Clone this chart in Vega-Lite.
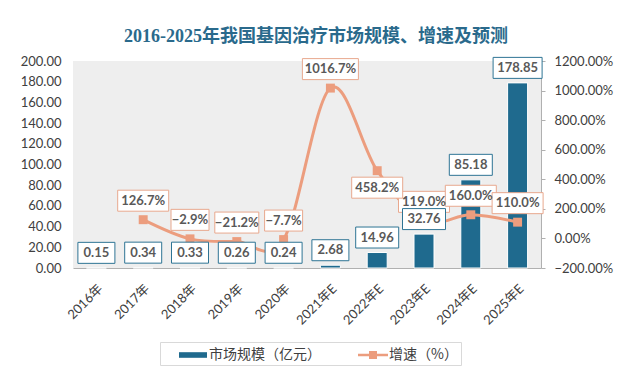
{
  "$schema": "https://vega.github.io/schema/vega-lite/v6.json",
  "autosize": {"type": "none"},
  "width": 468,
  "height": 207,
  "padding": {"left": 73, "top": 61, "right": 91, "bottom": 120},
  "background": "#ffffff",
  "config": {
    "view": {"fill": "#eeeeee", "stroke": null},
    "font": "Lato, Noto Sans CJK SC"
  },
  "title": {
    "text": "2016-2025年我国基因治疗市场规模、增速及预测",
    "font": "Liberation Serif, Noto Sans CJK SC",
    "fontSize": 18,
    "fontWeight": "bold",
    "color": "#2a6a8c",
    "anchor": "middle",
    "dx": 9,
    "offset": 9
  },
  "data": {
    "values": [
      {"year": "2016年", "scale": 0.15, "growth": null},
      {"year": "2017年", "scale": 0.34, "growth": 1.267},
      {"year": "2018年", "scale": 0.33, "growth": -0.029},
      {"year": "2019年", "scale": 0.26, "growth": -0.212},
      {"year": "2020年", "scale": 0.24, "growth": -0.077},
      {"year": "2021年E", "scale": 2.68, "growth": 10.167},
      {"year": "2022年E", "scale": 14.96, "growth": 4.582},
      {"year": "2023年E", "scale": 32.76, "growth": 1.19},
      {"year": "2024年E", "scale": 85.18, "growth": 1.6},
      {"year": "2025年E", "scale": 178.85, "growth": 1.1}
    ]
  },
  "encoding": {
    "x": {
      "field": "year",
      "type": "nominal",
      "sort": null,
      "scale": {"paddingInner": 0, "paddingOuter": 0},
      "axis": {
        "title": null,
        "labelAngle": -45,
        "labelFontSize": 13,
        "labelColor": "#404040",
        "labelPadding": 14,
        "ticks": false,
        "domainColor": "#b0b0b0",
        "domainWidth": 1.2,
        "grid": false
      }
    }
  },
  "layer": [
    {
      "mark": {"type": "bar", "size": 20, "stroke": "#ffffff", "strokeWidth": 1},
      "encoding": {
        "y": {
          "field": "scale",
          "type": "quantitative",
          "scale": {"domain": [0, 200], "nice": false},
          "axis": {
            "title": null,
            "values": [0, 20, 40, 60, 80, 100, 120, 140, 160, 180, 200],
            "format": ".2f",
            "labelFontSize": 13,
            "labelColor": "#404040",
            "labelPadding": 12,
            "labelOverlap": false,
            "ticks": false,
            "domain": false,
            "grid": false
          }
        },
        "color": {
          "datum": "市场规模（亿元）",
          "type": "nominal",
          "scale": {"domain": ["市场规模（亿元）", "增速（%）"], "range": ["#1f6a8e", "#ec9d7e"]},
          "legend": {
            "title": null,
            "orient": "none",
            "legendX": 87,
            "legendY": 281,
            "direction": "horizontal",
            "strokeColor": "#d9d9d9",
            "fillColor": "#ffffff",
            "padding": 3,
            "symbolOffset": 20,
            "symbolSize": 400,
            "symbolStrokeWidth": 0,
            "symbolOpacity": 1,
            "labelFontSize": 14,
            "labelColor": "#404040",
            "labelOffset": 6,
            "columnPadding": 22,
            "labelFont": "Noto Sans CJK SC"
          }
        }
      }
    },
    {
      "encoding": {
        "y": {
          "field": "growth",
          "type": "quantitative",
          "scale": {"domain": [-2, 12], "nice": false},
          "axis": {
            "title": null,
            "orient": "right",
            "values": [-2, 0, 2, 4, 6, 8, 10, 12],
            "format": ".2%",
            "labelFontSize": 13,
            "labelColor": "#404040",
            "labelPadding": 9,
            "labelOverlap": false,
            "ticks": true,
            "tickSize": 4,
            "tickColor": "#b0b0b0",
            "domain": true,
            "domainColor": "#b0b0b0",
            "grid": false
          }
        }
      },
      "layer": [
        {
          "mark": {"type": "line", "interpolate": "cardinal", "strokeWidth": 3},
          "encoding": {
            "color": {"datum": "增速（%）", "type": "nominal"}
          }
        },
        {
          "mark": {"type": "square", "size": 80, "color": "#ec9d7e", "opacity": 1}
        },
        {
          "transform": [{"filter": "false"}],
          "mark": {"type": "point", "filled": true, "opacity": 1},
          "encoding": {
            "color": {"datum": "增速（%）", "type": "nominal"},
            "shape": {
              "datum": "增速（%）",
              "type": "nominal",
              "scale": {
                "domain": ["市场规模（亿元）", "增速（%）"],
                "range": ["M-1.4,-0.28H1.4V0.28H-1.4Z", "M-1.5,-0.13H1.5V0.13H-1.5Z M-0.4,-0.4H0.4V0.4H-0.4Z"]
              },
              "legend": {
                "title": null,
                "orient": "none",
                "legendX": 87,
                "legendY": 281,
                "direction": "horizontal",
                "strokeColor": "#d9d9d9",
                "fillColor": "#ffffff",
                "padding": 3,
                "symbolOffset": 20,
                "symbolSize": 400,
                "symbolStrokeWidth": 0,
                "symbolOpacity": 1,
                "labelFontSize": 14,
                "labelColor": "#404040",
                "labelOffset": 6,
                "columnPadding": 22,
                "labelFont": "Noto Sans CJK SC"
              }
            }
          }
        },
        {
          "transform": [{"filter": "datum.growth != null && datum.year != '2022年E'"}],
          "layer": [
            {
              "mark": {"type": "point", "filled": true, "size": 100, "fill": "#ffffff", "stroke": "#e8a88e", "strokeWidth": 1, "opacity": 1, "yOffset": -19},
              "encoding": {
                "shape": {
                  "condition": [
                    {"test": "datum.growth >= 10", "value": "M-5.6,-2.1H5.6V2.1H-5.6Z"},
                    {"test": "datum.growth >= 1", "value": "M-5.1,-2.1H5.1V2.1H-5.1Z"},
                    {"test": "datum.growth <= -0.1", "value": "M-4.4,-2.1H4.4V2.1H-4.4Z"}
                  ],
                  "value": "M-3.8,-2.1H3.8V2.1H-3.8Z"
                }
              }
            },
            {
              "mark": {"type": "text", "fontSize": 13, "fontWeight": "bold", "color": "#595959", "baseline": "middle", "dy": -19},
              "encoding": {
                "text": {"field": "growth", "type": "quantitative", "format": ".1%"}
              }
            }
          ]
        },
        {
          "transform": [{"filter": "datum.year == '2022年E'"}],
          "layer": [
            {
              "mark": {"type": "point", "filled": true, "size": 100, "fill": "#ffffff", "stroke": "#e8a88e", "strokeWidth": 1, "opacity": 1, "yOffset": 17},
              "encoding": {
                "shape": {"value": "M-5.1,-2.1H5.1V2.1H-5.1Z"}
              }
            },
            {
              "mark": {"type": "text", "fontSize": 13, "fontWeight": "bold", "color": "#595959", "baseline": "middle", "dy": 17},
              "encoding": {
                "text": {"field": "growth", "type": "quantitative", "format": ".1%"}
              }
            }
          ]
        }
      ]
    },
    {
      "encoding": {
        "y": {
          "field": "scale",
          "type": "quantitative",
          "scale": {"domain": [0, 200], "nice": false},
          "axis": null
        }
      },
      "layer": [
        {
          "mark": {"type": "point", "filled": true, "size": 100, "fill": "#ffffff", "stroke": "#2e7494", "strokeWidth": 1, "opacity": 1, "yOffset": -15},
          "encoding": {
            "shape": {
              "condition": [
                {"test": "datum.scale >= 100", "value": "M-4.9,-2.1H4.9V2.1H-4.9Z"},
                {"test": "datum.scale >= 10", "value": "M-4.3,-2.1H4.3V2.1H-4.3Z"}
              ],
              "value": "M-3.7,-2.1H3.7V2.1H-3.7Z"
            }
          }
        },
        {
          "mark": {"type": "text", "fontSize": 13, "fontWeight": "bold", "color": "#595959", "baseline": "middle", "dy": -15},
          "encoding": {
            "text": {"field": "scale", "type": "quantitative", "format": ".2f"}
          }
        }
      ]
    }
  ],
  "resolve": {"scale": {"y": "independent"}}
}
